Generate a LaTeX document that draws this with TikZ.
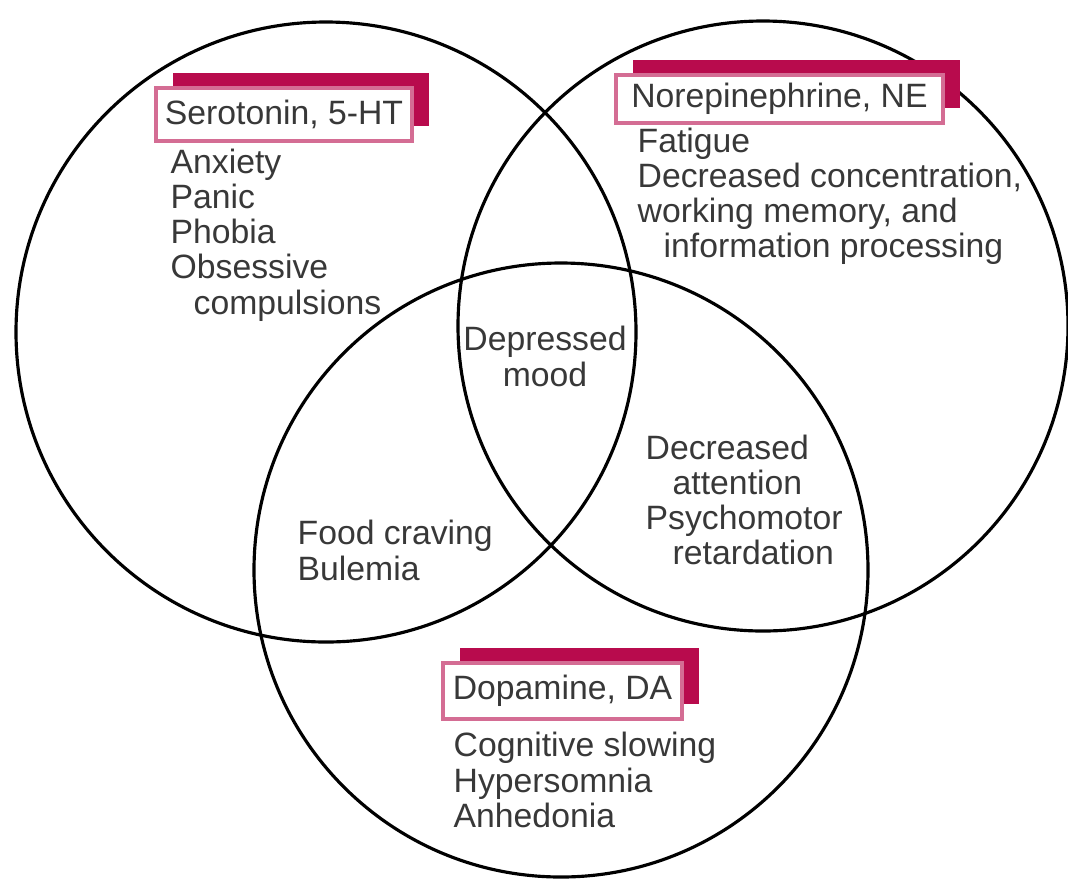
\documentclass[tikz,border=0pt]{standalone}
\usepackage{fontspec}
\setmainfont{Liberation Sans}
\usetikzlibrary{shadows}
\definecolor{tagred}{HTML}{B80B4D}
\definecolor{txtgray}{HTML}{383838}

\begin{document}
\begin{tikzpicture}[
    venn/.style={circle, draw, line width=0.9pt, inner sep=0pt},
    tag/.style={rectangle, draw=tagred!60, line width=1.2pt, fill=white, inner sep=0pt, text=txtgray,
      font=\fontsize{9.6}{10}\selectfont,
      drop shadow={shadow xshift=0.17cm, shadow yshift=0.15cm, fill=tagred, opacity=1}},
    txt/.style={align=left, inner sep=0pt, text=txtgray, font=\fontsize{9.6}{10}\selectfont}
  ]
    \useasboundingbox (0,0) rectangle (10.68,8.79);

    % the three circles
    \node[venn, minimum size=6.2cm] (ht) at (3.26,5.47) {};
    \node[venn, minimum size=6.1cm] (ne) at (7.63,5.53) {};
    \node[venn, minimum size=6.14cm] (da) at (5.61,3.09) {};

    % labels
    \node[tag, minimum width=2.56cm, minimum height=0.53cm] (htlabel) at (2.84,7.645) {Serotonin, 5-HT};
    \node[tag, minimum width=3.27cm, minimum height=0.48cm] (nelabel) at (7.795,7.80) {Norepinephrine, NE};
    \node[tag, minimum width=2.39cm, minimum height=0.56cm] (dalabel) at (5.625,1.88) {Dopamine, DA};

    % symptoms
    \node[txt, anchor=west] (htlist) at (1.70,6.44) {Anxiety\\Panic\\Phobia\\Obsessive\\\hspace*{0.23cm}compulsions};
    \node[txt, anchor=west] (nelist) at (6.37,6.825) {Fatigue\\Decreased concentration,\\working memory, and\\\hspace*{0.26cm}information processing};
    \node[txt, anchor=west] (dalist) at (4.53,0.99) {Cognitive slowing\\Hypersomnia\\Anhedonia};
    \node[txt, align=center] (mood) at (5.45,5.225) {Depressed\\mood};
    \node[txt, anchor=west] (attn) at (6.45,3.79) {Decreased\\\hspace*{0.27cm}attention\\Psychomotor\\\hspace*{0.27cm}retardation};
    \node[txt, anchor=west] (food) at (2.97,3.285) {Food craving\\Bulemia};
  \end{tikzpicture}
\end{document}
